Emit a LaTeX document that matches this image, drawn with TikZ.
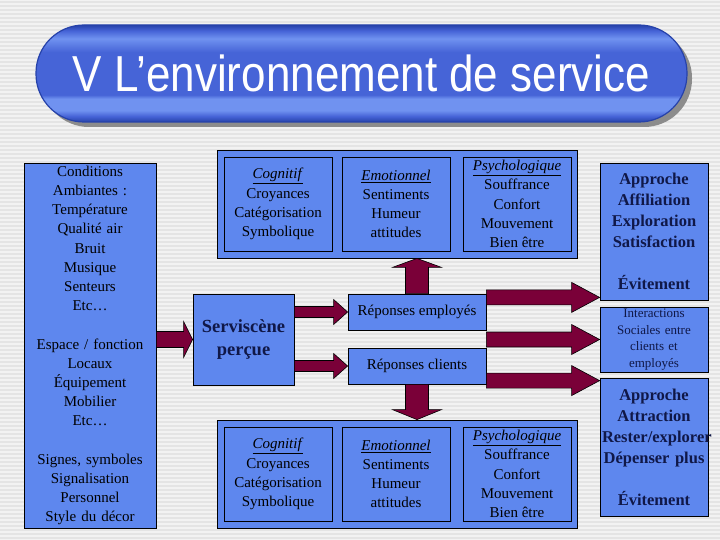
\documentclass[tikz,border=0pt]{standalone}
\usepackage{fontspec}
\setmainfont{Liberation Serif}
\newfontfamily\titlefont{Liberation Sans}
\usetikzlibrary{calc,shadows}

\definecolor{boxblue}{RGB}{94,135,238}
\definecolor{arrowred}{RGB}{122,0,56}
\definecolor{textnavy}{RGB}{16,24,72}
\definecolor{stripegray}{RGB}{228,228,228}
\definecolor{pilldark}{RGB}{38,66,170}
\definecolor{pillmid}{RGB}{70,100,215}
\definecolor{pilllight}{RGB}{112,146,240}

\pgfdeclareverticalshading{pillshade}{100bp}{%
  color(0bp)=(pilldark); color(25bp)=(pilldark); color(28bp)=(pillmid);
  color(31bp)=(pilllight); color(37bp)=(pilllight); color(39bp)=(pillmid);
  color(61bp)=(pillmid); color(68bp)=(pilllight); color(72bp)=(pillmid);
  color(75bp)=(pilldark); color(100bp)=(pilldark)}

\tikzset{
  box/.style={draw=black, fill=boxblue, line width=0.8pt, inner sep=0pt, align=center},
  bodytext/.style={font=\fontsize{15}{19.2}\selectfont},
  bigbold/.style={font=\fontsize{16.5}{21}\selectfont\bfseries, text=textnavy},
  blockarrow/.style={fill=arrowred, draw=black, line width=0.6pt}
}

% fleche epaisse : depart, arrivee, demi-corps, demi-tete, longueur de tete
\newcommand{\fatarrow}[5]{%
  \coordinate (fa-h) at ($(#2)!#5!(#1)$);
  \draw[blockarrow] ($(#1)!#3!90:(#2)$) -- ($(fa-h)!#3!-90:(#1)$)
    -- ($(fa-h)!#4!-90:(#1)$) -- (#2) -- ($(fa-h)!#4!90:(#1)$)
    -- ($(fa-h)!#3!90:(#1)$) -- ($(#1)!#3!-90:(#2)$) -- cycle;}

\begin{document}
\begin{tikzpicture}[x=1pt, y=-1pt]
  \useasboundingbox (0,0) rectangle (720,540);
  % fond raye
  \fill[white!95!black] (0,0) rectangle (720,540);
  \foreach \yy in {1,5,...,537}
    \fill[stripegray] (0,\yy) rectangle (720,\yy+2);
  % titre
  \node[draw=pilldark, line width=1.2pt, rounded corners=48pt, shading=pillshade,
        minimum width=651pt, minimum height=97pt, inner sep=0pt,
        drop shadow={shadow xshift=5pt, shadow yshift=-5pt, fill=black!45, opacity=1},
        text=white, font=\titlefont\fontsize{44}{44}\selectfont]
    (title) at (361.5,73.5) {\scalebox{1}[1.15]{V L’environnement de service}};
  % boite de gauche
  \node[box, bodytext, minimum width=132pt, minimum height=365pt, text width=130pt]
    (env) at (90,345.5) {Conditions\\ Ambiantes :\\ Température\\ Qualité air\\ Bruit\\
      Musique\\ Senteurs\\ Etc…\\ \mbox{}\\ Espace / fonction\\ Locaux\\ Équipement\\
      Mobilier\\ Etc…\\ \mbox{}\\ Signes, symboles\\ Signalisation\\ Personnel\\
      Style du décor};
  % groupes haut et bas
  \foreach \g/\yy in {1/204, 2/474} {
    \node[box, minimum width=360pt, minimum height=108pt] (grp\g) at (397,\yy) {};
    \node[box, bodytext, minimum width=108pt, minimum height=94pt] (cog\g) at (278,\yy)
      {\underline{\textit{Cognitif}}\\ Croyances\\ Catégorisation\\ Symbolique};
    \node[box, bodytext, minimum width=108pt, minimum height=94pt] (emo\g) at (396,\yy)
      {\underline{\textit{Emotionnel}}\\ Sentiments\\ Humeur\\ attitudes};
    \node[box, bodytext, minimum width=108pt, minimum height=94pt] (psy\g) at (517,\yy)
      {\underline{\textit{Psychologique}}\\ Souffrance\\ Confort\\ Mouvement\\ Bien être};
  }
  % centre
  \node[box, minimum width=101pt, minimum height=91pt, text=textnavy,
        font=\fontsize{18.5}{23}\selectfont\bfseries] (svc) at (243.5,339.5) {Serviscène\\ perçue};
  \node[box, bodytext, minimum width=138pt, minimum height=36pt] (rem) at (417,312) {Réponses employés};
  \node[box, bodytext, minimum width=138pt, minimum height=36pt] (rcl) at (417,366) {Réponses clients};
  % boites de droite
  \node[box, bigbold, minimum width=108pt, minimum height=137pt, text width=104pt]
    (appA) at (654,231.5) {Approche\\ Affiliation\\ Exploration\\ Satisfaction\\ \mbox{}\\ Évitement};
  \node[box, font=\fontsize{13}{16.7}\selectfont, text=textnavy, minimum width=108pt,
        minimum height=65pt, text width=104pt]
    (soc) at (654,339.5) {Interactions\\ Sociales entre\\ clients et\\ employés};
  \node[box, bigbold, minimum width=108pt, minimum height=138pt, text width=104pt]
    (appB) at (654,447) {Approche\\ Attraction\\ Rester/explorer\\ Dépenser plus\\ \mbox{}\\ Évitement};
  % fleches
  \coordinate (in1) at (env.east |- svc.west);
  \fatarrow{in1}{svc.west}{8pt}{18pt}{9pt}
  \coordinate (s1) at (svc.east |- rem.west);
  \fatarrow{s1}{rem.west}{5.5pt}{12.5pt}{14pt}
  \coordinate (s2) at (svc.east |- rcl.west);
  \fatarrow{s2}{rcl.west}{5.5pt}{12.5pt}{14pt}
  \coordinate (u1) at (rem.north |- grp1.south);
  \fatarrow{rem.north}{u1}{11.5pt}{24.5pt}{9pt}
  \coordinate (d1) at (rcl.south |- grp2.north);
  \fatarrow{rcl.south}{d1}{11.5pt}{24.5pt}{10pt}
  \coordinate (t1) at ([yshift=3pt]appA.south west);
  \coordinate (r1) at (rem.east |- t1);
  \fatarrow{r1}{t1}{7.5pt}{15pt}{28pt}
  \coordinate (r2) at (rem.east |- soc.west);
  \fatarrow{r2}{soc.west}{7.5pt}{15pt}{28pt}
  \coordinate (t3) at ([yshift=-3pt]appB.north west);
  \coordinate (r3) at (rcl.east |- t3);
  \fatarrow{r3}{t3}{7.5pt}{15pt}{28pt}
\end{tikzpicture}
\end{document}
